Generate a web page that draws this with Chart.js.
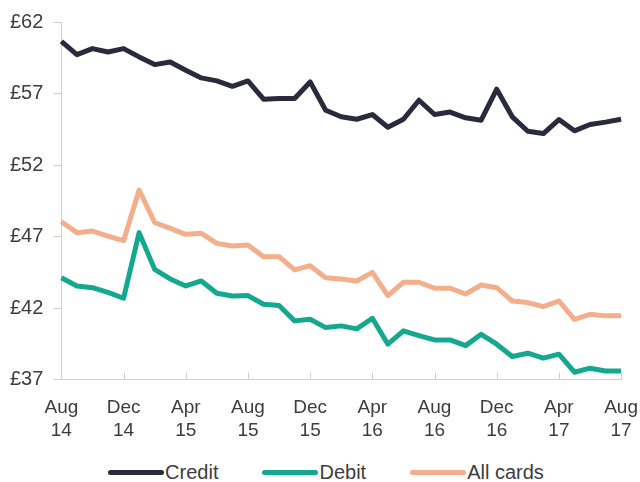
<!DOCTYPE html>
<html lang="en">
<head>
    <meta charset="UTF-8">
    <title>Average card transaction value</title>
    <script src="https://cdn.jsdelivr.net/npm/chart.js"></script>
    <style>
        * {
            margin: 0;
            padding: 0;
            box-sizing: border-box;
        }

        body {
            background: #ffffff;
            width: 640px;
            height: 482px;
            overflow: hidden;
            position: relative;
            font-family: 'Liberation Sans', Arial, sans-serif;
            color: #3d3d3d;
        }

        /* canvas a little wider than the page so the plot reaches x=620 */
        .chart-box {
            position: absolute;
            left: 0;
            top: 0;
            width: 646px;
            height: 455px;
        }

        /* Legend drawn in HTML so the line sits right next to its text */
        .legend {
            position: absolute;
            top: 460px;
            left: 6px;
            width: 640px;
            display: flex;
            justify-content: center;
            font-size: 20px;
            line-height: 24px;
        }

        .legend-item {
            display: flex;
            align-items: center;
            margin: 0 22px;
        }

        .legend-line {
            display: inline-block;
            width: 56px;
            height: 5px;
            border-radius: 3px;
            margin-right: 1px;
        }
    </style>
</head>
<body>
    <div class="chart-box">
        <canvas id="cardChart" width="646" height="455"></canvas>
    </div>
    <div class="legend" id="legend"></div>

    <script>
        // Months, Aug 14 to Aug 17
        const months = [
            'Aug 14', 'Sep 14', 'Oct 14', 'Nov 14', 'Dec 14', 'Jan 15', 'Feb 15', 'Mar 15',
            'Apr 15', 'May 15', 'Jun 15', 'Jul 15', 'Aug 15', 'Sep 15', 'Oct 15', 'Nov 15',
            'Dec 15', 'Jan 16', 'Feb 16', 'Mar 16', 'Apr 16', 'May 16', 'Jun 16', 'Jul 16',
            'Aug 16', 'Sep 16', 'Oct 16', 'Nov 16', 'Dec 16', 'Jan 17', 'Feb 17', 'Mar 17',
            'Apr 17', 'May 17', 'Jun 17', 'Jul 17', 'Aug 17'
        ];

        // Months that get a label and a tick on the x axis
        const labelledMonths = ['Aug 14', 'Dec 14', 'Apr 15', 'Aug 15', 'Dec 15', 'Apr 16', 'Aug 16', 'Dec 16', 'Apr 17', 'Aug 17'];

        const credit = [60.65, 59.72, 60.14, 59.9, 60.14, 59.56, 59.02, 59.2, 58.63, 58.09, 57.88, 57.5, 57.88, 56.6, 56.65, 56.65, 57.81, 55.83, 55.37, 55.2, 55.53, 54.64, 55.2, 56.53, 55.53, 55.7, 55.3, 55.13, 57.3, 55.37, 54.36, 54.2, 55.18, 54.39, 54.83, 55.0, 55.2];
        const debit = [44.12, 43.54, 43.42, 43.09, 42.68, 47.27, 44.7, 44.03, 43.54, 43.89, 43.03, 42.84, 42.87, 42.26, 42.17, 41.1, 41.21, 40.63, 40.75, 40.54, 41.28, 39.47, 40.4, 40.07, 39.77, 39.77, 39.37, 40.16, 39.47, 38.61, 38.84, 38.49, 38.77, 37.51, 37.79, 37.6, 37.6];
        const allCards = [48.03, 47.27, 47.38, 47.03, 46.71, 50.25, 47.98, 47.57, 47.15, 47.22, 46.52, 46.33, 46.4, 45.59, 45.59, 44.66, 44.96, 44.12, 44.03, 43.89, 44.49, 42.87, 43.8, 43.8, 43.38, 43.38, 42.98, 43.61, 43.42, 42.49, 42.38, 42.1, 42.49, 41.21, 41.56, 41.45, 41.45];

        const yTicks = [37, 42, 47, 52, 57, 62];

        const seriesNames = ['Credit', 'Debit', 'All cards'];
        const seriesColors = ['#2a2a3c', '#14a98f', '#f3ae8b'];

        const axisColor = '#d0d0d0';
        const textColor = '#3d3d3d';

        // short upward tick marks on the x axis
        const innerTicks = {
            id: 'innerTicks',
            afterDraw(chart) {
                const x = chart.scales.x;
                const ctx = chart.ctx;
                const bottom = chart.chartArea.bottom;
                ctx.save();
                ctx.strokeStyle = axisColor;
                ctx.lineWidth = 1;
                labelledMonths.forEach(m => {
                    const px = Math.round(x.getPixelForValue(months.indexOf(m))) + 0.5;
                    ctx.beginPath();
                    ctx.moveTo(px, bottom);
                    ctx.lineTo(px, bottom - 7);
                    ctx.stroke();
                });
                ctx.restore();
            }
        };

        const ctx = document.getElementById('cardChart').getContext('2d');
        const chart = new Chart(ctx, {
            type: 'line',
            data: {
                labels: months,
                datasets: [credit, debit, allCards].map((values, i) => ({
                    label: seriesNames[i],
                    data: values,
                    borderColor: seriesColors[i],
                    backgroundColor: seriesColors[i],
                    borderWidth: 5,
                    pointRadius: 0,
                    tension: 0,
                    fill: false,
                    borderJoinStyle: 'round',
                    borderCapStyle: 'butt'
                }))
            },
            options: {
                responsive: false,
                animation: false,
                layout: {
                    padding: { left: 0, right: 8, top: 10, bottom: 4 }
                },
                plugins: {
                    legend: { display: false },
                    tooltip: { enabled: false }
                },
                scales: {
                    x: {
                        offset: false,
                        grid: { display: false },
                        border: { color: axisColor, width: 1 },
                        ticks: {
                            autoSkip: false,
                            maxRotation: 0,
                            minRotation: 0,
                            padding: 8,
                            color: textColor,
                            font: { family: "'Liberation Sans', Arial, sans-serif", size: 19, lineHeight: 1.25 },
                            callback: function (value) {
                                const m = months[value];
                                return labelledMonths.includes(m) ? m.split(' ') : null;
                            }
                        }
                    },
                    y: {
                        min: 37,
                        max: 62,
                        afterBuildTicks: scale => {
                            scale.ticks = yTicks.map(v => ({ value: v }));
                        },
                        grid: {
                            drawOnChartArea: false,
                            drawTicks: true,
                            tickLength: 8,
                            color: axisColor
                        },
                        border: { color: axisColor, width: 1 },
                        ticks: {
                            padding: 10,
                            color: textColor,
                            font: { family: "'Liberation Sans', Arial, sans-serif", size: 20 },
                            callback: v => '£' + v
                        }
                    }
                }
            },
            plugins: [innerTicks]
        });

        // HTML legend
        const legend = document.getElementById('legend');
        seriesNames.forEach((name, i) => {
            const item = document.createElement('span');
            item.className = 'legend-item';
            item.innerHTML = '<span class="legend-line" style="background:' + seriesColors[i] + '"></span>' + name;
            legend.appendChild(item);
        });
    </script>
</body>
</html>
